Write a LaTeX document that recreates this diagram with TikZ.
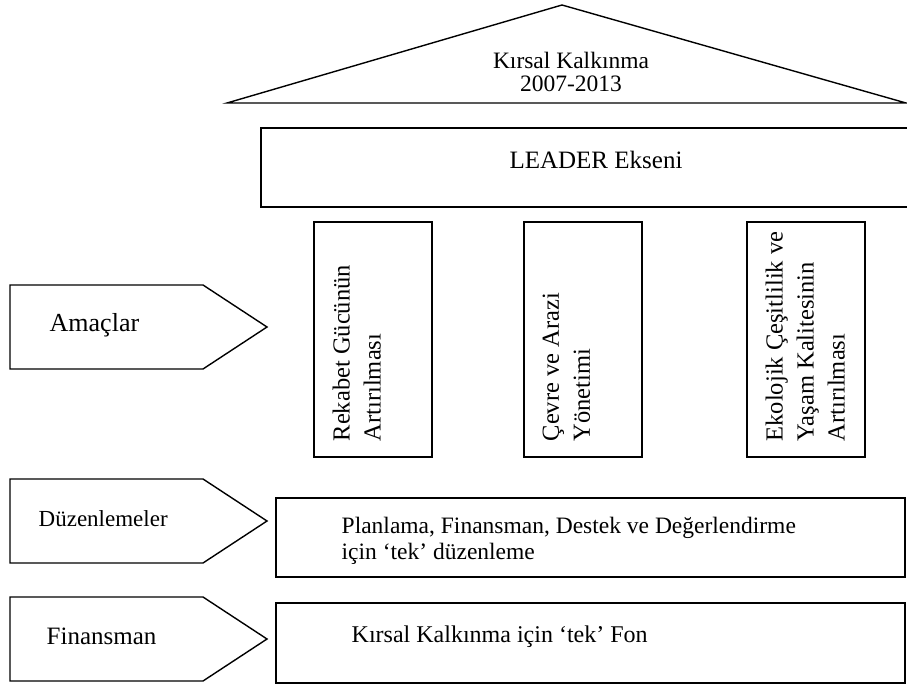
\documentclass[tikz,border=0pt]{standalone}
\usepackage{fontspec}
\setmainfont{Liberation Serif}
\usetikzlibrary{positioning}

\tikzset{
  label text/.style={inner sep=0pt, font=\fontsize{#1}{#1}\selectfont},
  pillar text/.style={inner sep=0pt, rotate=90, anchor=north west, align=left,
    font=\fontsize{24.5}{31}\selectfont},
}

\begin{document}
\begin{tikzpicture}[x=1pt, y=-1pt, line width=1.4pt]
    \useasboundingbox (0,0) rectangle (907,684);
    % Draw the roof and its label
    \draw (227,103) -- (562,5) -- (906,103) -- cycle;
    \node[label text=23.5, anchor=base] (roof) at (571,69) {Kırsal Kalkınma};
    \node[label text=23.5, anchor=base] (years) at (571,92) {2007-2013};
    % Draw the LEADER beam
    \draw (261,128) rectangle (915,207);
    \node[label text=25, anchor=base] (leader) at (596,169) {LEADER Ekseni};
    % Draw the three pillars
    \foreach \x/\name/\txt in {314/rekabet/{Rekabet Gücünün\\Artırılması},
        524/cevre/{Çevre ve Arazi\\Yönetimi},
        747/ekoloji/{Ekolojik Çeşitlilik ve\\Yaşam Kalitesinin\\Artırılması}}{
      \draw (\x,222) rectangle ++(118,235);
      \node[pillar text] (\name) at (\x+18,442) {\txt};
    }
    % Draw the arrows on the left
    \foreach \y/\name/\txt/\s/\dx in {285/amac/Amaçlar/26/49, 479/duzen/Düzenlemeler/23/38, 597/finans/Finansman/25/46}{
      \draw (10,\y) -- (203,\y) -- (267,\y+42) -- (203,\y+84) -- (10,\y+84) -- cycle;
      \node[label text=\s, anchor=base west] (\name) at (\dx,\y+47) {\txt};
    }
    % Draw the two lower boxes
    \draw (276,498) rectangle (905,577);
    \node[label text=23.5, anchor=base west] (plan) at (341,533) {Planlama, Finansman, Destek ve Değerlendirme};
    \node[label text=23.5, anchor=base west] (plan2) at (341,559) {için ‘tek’ düzenleme};
    \draw (276,603) rectangle (905,683);
    \node[label text=24, anchor=base west] (fon) at (351,642) {Kırsal Kalkınma için ‘tek’ Fon};
\end{tikzpicture}
\end{document}
